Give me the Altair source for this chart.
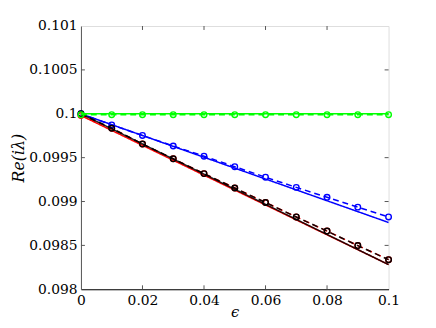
import altair as alt
import pandas as pd

eps = [0.0, 0.01, 0.02, 0.03, 0.04, 0.05, 0.06, 0.07, 0.08, 0.09, 0.1]
eps_ends = [0.0, 0.1]

green_dashed = [0.09999] * 11
green_solid = [0.1, 0.1]
blue_dashed = [0.1, 0.099873, 0.099753, 0.099633, 0.099517, 0.099397,
               0.099277, 0.099161, 0.099048, 0.098936, 0.098824]
blue_solid = [0.1, 0.098761]
black_dashed = [0.1, 0.099835, 0.099655, 0.099487, 0.099318, 0.099154,
                0.098989, 0.098824, 0.098663, 0.098498, 0.098337]
black_solid = [0.1, 0.098281]
red_dashed = [0.09998, 0.099835, 0.099655, 0.099487, 0.099318, 0.099154,
              0.098989, 0.098824, 0.098663, 0.098498, 0.098337]
red_solid = [0.09998, 0.098281]

x_ticks = [0.0, 0.02, 0.04, 0.06, 0.08, 0.1]
y_ticks = [0.098, 0.0985, 0.099, 0.0995, 0.1, 0.1005, 0.101]

W, H = 312, 267
SERIF = "DejaVu Serif"

rows = []
def add(name, xs, ys):
    for x, y in zip(xs, ys):
        rows.append({"eps": x, "val": y, "series": name})

add("red_s", eps_ends, red_solid)
add("red_d", eps, red_dashed)
add("blue_s", eps_ends, blue_solid)
add("blue_d", eps, blue_dashed)
add("black_s", eps_ends, black_solid)
add("black_d", eps, black_dashed)
add("green_s", eps_ends, green_solid)
add("green_d", eps, green_dashed)
df = pd.DataFrame(rows)

colors = {"red_s": "#ff0000", "red_d": "#ff0000", "blue_s": "#0000ff", "blue_d": "#0000ff",
          "black_s": "#000000", "black_d": "#000000", "green_s": "#00ff00", "green_d": "#00ff00"}
opac = {"red_s": 1.0, "red_d": 1.0, "blue_s": 1.0, "blue_d": 1.0,
        "black_s": 0.85, "black_d": 0.9, "green_s": 1.0, "green_d": 1.0}
dom = list(colors.keys())
rng = [colors[k] for k in dom]

xs = alt.Scale(domain=[0, 0.1], nice=False, zero=False)
ys = alt.Scale(domain=[0.098, 0.101], nice=False, zero=False)

xax = alt.Axis(values=x_ticks, format="~g", title="ϵ", grid=False, ticks=False,
               labelFont=SERIF, labelFontSize=14, labelColor="black",
               titleFont=SERIF, titleFontSize=15, titleFontStyle="italic",
               titleFontWeight="normal", titlePadding=-2, labelPadding=4,
               domainColor="black", labelFlush=False)
yax = alt.Axis(values=y_ticks, format="~g", title="Re(iλ)", grid=False, ticks=False,
               labelFont=SERIF, labelFontSize=14, labelColor="black",
               titleFont=SERIF, titleFontSize=16, titleFontStyle="italic",
               titleFontWeight="normal", titlePadding=2, labelPadding=4,
               domainColor="#555555", labelFlush=False)

col = alt.Color("series:N", scale=alt.Scale(domain=dom, range=rng), legend=None)

layers = []
for name in dom:
    sub = df[df.series == name]
    dashed = name.endswith("_d")
    ln = alt.Chart(sub).mark_line(
        strokeWidth=1.5, strokeDash=[6, 4] if dashed else [1, 0], opacity=opac[name]
    ).encode(
        x=alt.X("eps:Q", scale=xs, axis=xax),
        y=alt.Y("val:Q", scale=ys, axis=yax),
        color=col,
        order="eps:Q",
    )
    layers.append(ln)
    if dashed:
        pts = alt.Chart(sub).mark_point(shape="circle", filled=False, size=32,
                                        strokeWidth=1.4, opacity=1).encode(
            x=alt.X("eps:Q", scale=xs, axis=xax),
            y=alt.Y("val:Q", scale=ys, axis=yax),
            color=col,
        )
        layers.append(pts)

# inward ticks
xt = pd.DataFrame({"t": x_ticks[1:-1]})
yt = pd.DataFrame({"t": y_ticks[1:-1]})
tick_col = "#555555"
tb = alt.Chart(xt).mark_rule(color=tick_col, strokeWidth=1).encode(
    x=alt.X("t:Q", scale=xs, axis=xax), y=alt.value(H), y2=alt.value(H - 4))
tt = alt.Chart(xt).mark_rule(color=tick_col, strokeWidth=1).encode(
    x=alt.X("t:Q", scale=xs, axis=xax), y=alt.value(0), y2=alt.value(4))
tl = alt.Chart(yt).mark_rule(color=tick_col, strokeWidth=1).encode(
    y=alt.Y("t:Q", scale=ys, axis=yax), x=alt.value(0), x2=alt.value(4))
tr = alt.Chart(yt).mark_rule(color=tick_col, strokeWidth=1).encode(
    y=alt.Y("t:Q", scale=ys, axis=yax), x=alt.value(W), x2=alt.value(W - 4))

chart = alt.layer(tb, tt, tl, tr, *layers).properties(
    width=W, height=H,
    autosize=alt.AutoSizeParams(type="none"),
    padding={"left": 74, "top": 16, "right": 40, "bottom": 37},
).configure_view(stroke="#444444", strokeWidth=1).configure(
    background="white", font=SERIF
).configure_axis(labelFont=SERIF, titleFont=SERIF)

chart.save("out.html", embed_options={"renderer": "svg", "actions": False})
